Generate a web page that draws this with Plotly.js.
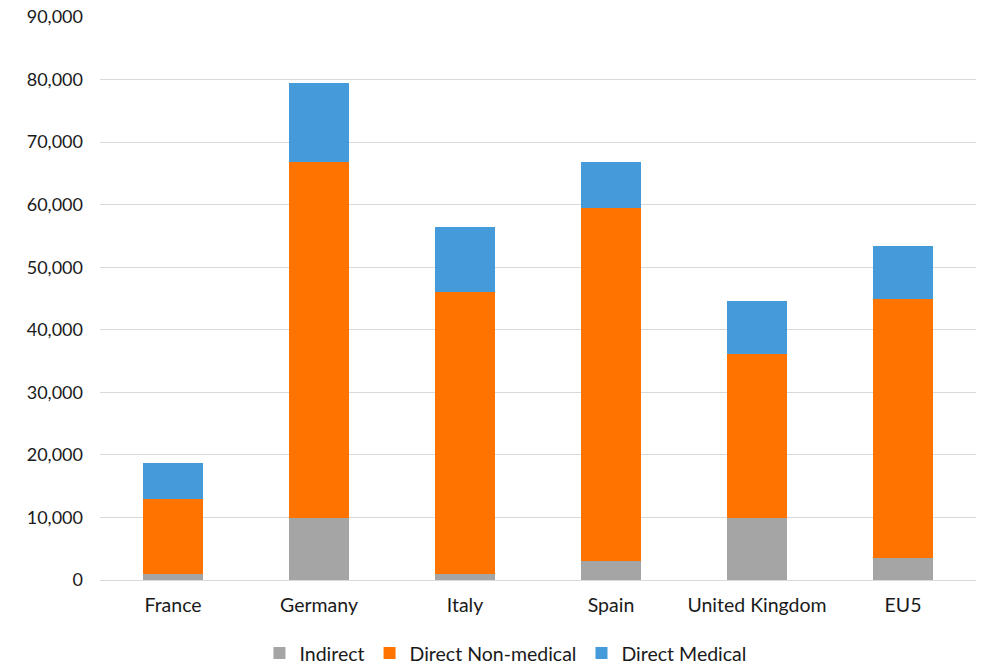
<!DOCTYPE html>
<html>
<head>
<meta charset="utf-8">
<script src="https://cdn.plot.ly/plotly-3.0.1.min.js"></script>
<style>html,body{margin:0;padding:0;background:#fff;}#chart{width:995px;height:668px;}</style>
</head>
<body>
<div id="chart"></div>
<script>
const categories = ["France", "Germany", "Italy", "Spain", "United Kingdom", "EU5"];
const indirect = [1000, 9850, 1000, 3100, 9850, 3550];
const directNonMedical = [12000, 56950, 45000, 56400, 26350, 41350];
const directMedical = [5700, 12650, 10450, 7300, 8350, 8500];
const yTicks = [0, 10000, 20000, 30000, 40000, 50000, 60000, 70000, 80000, 90000];

const fam = "Lato, 'Liberation Sans', sans-serif";
const txt = "#1a1a1a";

const traces = [
  {name: "Indirect", x: categories, y: indirect, type: "bar", marker: {color: "#A5A5A5"}},
  {name: "Direct Non-medical", x: categories, y: directNonMedical, type: "bar", marker: {color: "#FF7400"}},
  {name: "Direct Medical", x: categories, y: directMedical, type: "bar", marker: {color: "#459BDA"}}
];

const layout = {
  barmode: "stack",
  bargap: 0.595,
  width: 995, height: 668,
  margin: {l: 100, r: 19, t: 17, b: 88, autoexpand: false},
  paper_bgcolor: "#fff", plot_bgcolor: "#fff",
  font: {family: fam, size: 18, color: txt},
  showlegend: true,
  legend: {orientation: "h", x: 0.508, xanchor: "center", xref: "container",
           y: 0.022, yanchor: "middle", yref: "container", traceorder: "normal",
           font: {family: fam, size: 19.5, color: txt}, itemwidth: 30},
  xaxis: {showgrid: false, showline: true, linecolor: "#D9D9D9", linewidth: 1, ticks: "",
          ticklabelstandoff: 8,
          tickfont: {family: fam, size: 19.5, color: txt}, fixedrange: true, automargin: false},
  yaxis: {range: [0, 90000], tickvals: yTicks, ticktext: yTicks.map(v => v.toLocaleString("en-US")),
          showgrid: true, gridcolor: "#D9D9D9", gridwidth: 1, zeroline: false, showline: false,
          ticks: "", ticklen: 0, ticklabelstandoff: 16,
          tickfont: {family: fam, size: 18, color: txt}, fixedrange: true, automargin: false}
};

Plotly.newPlot("chart", traces, layout, {displayModeBar: false, staticPlot: true});
</script>
</body>
</html>
